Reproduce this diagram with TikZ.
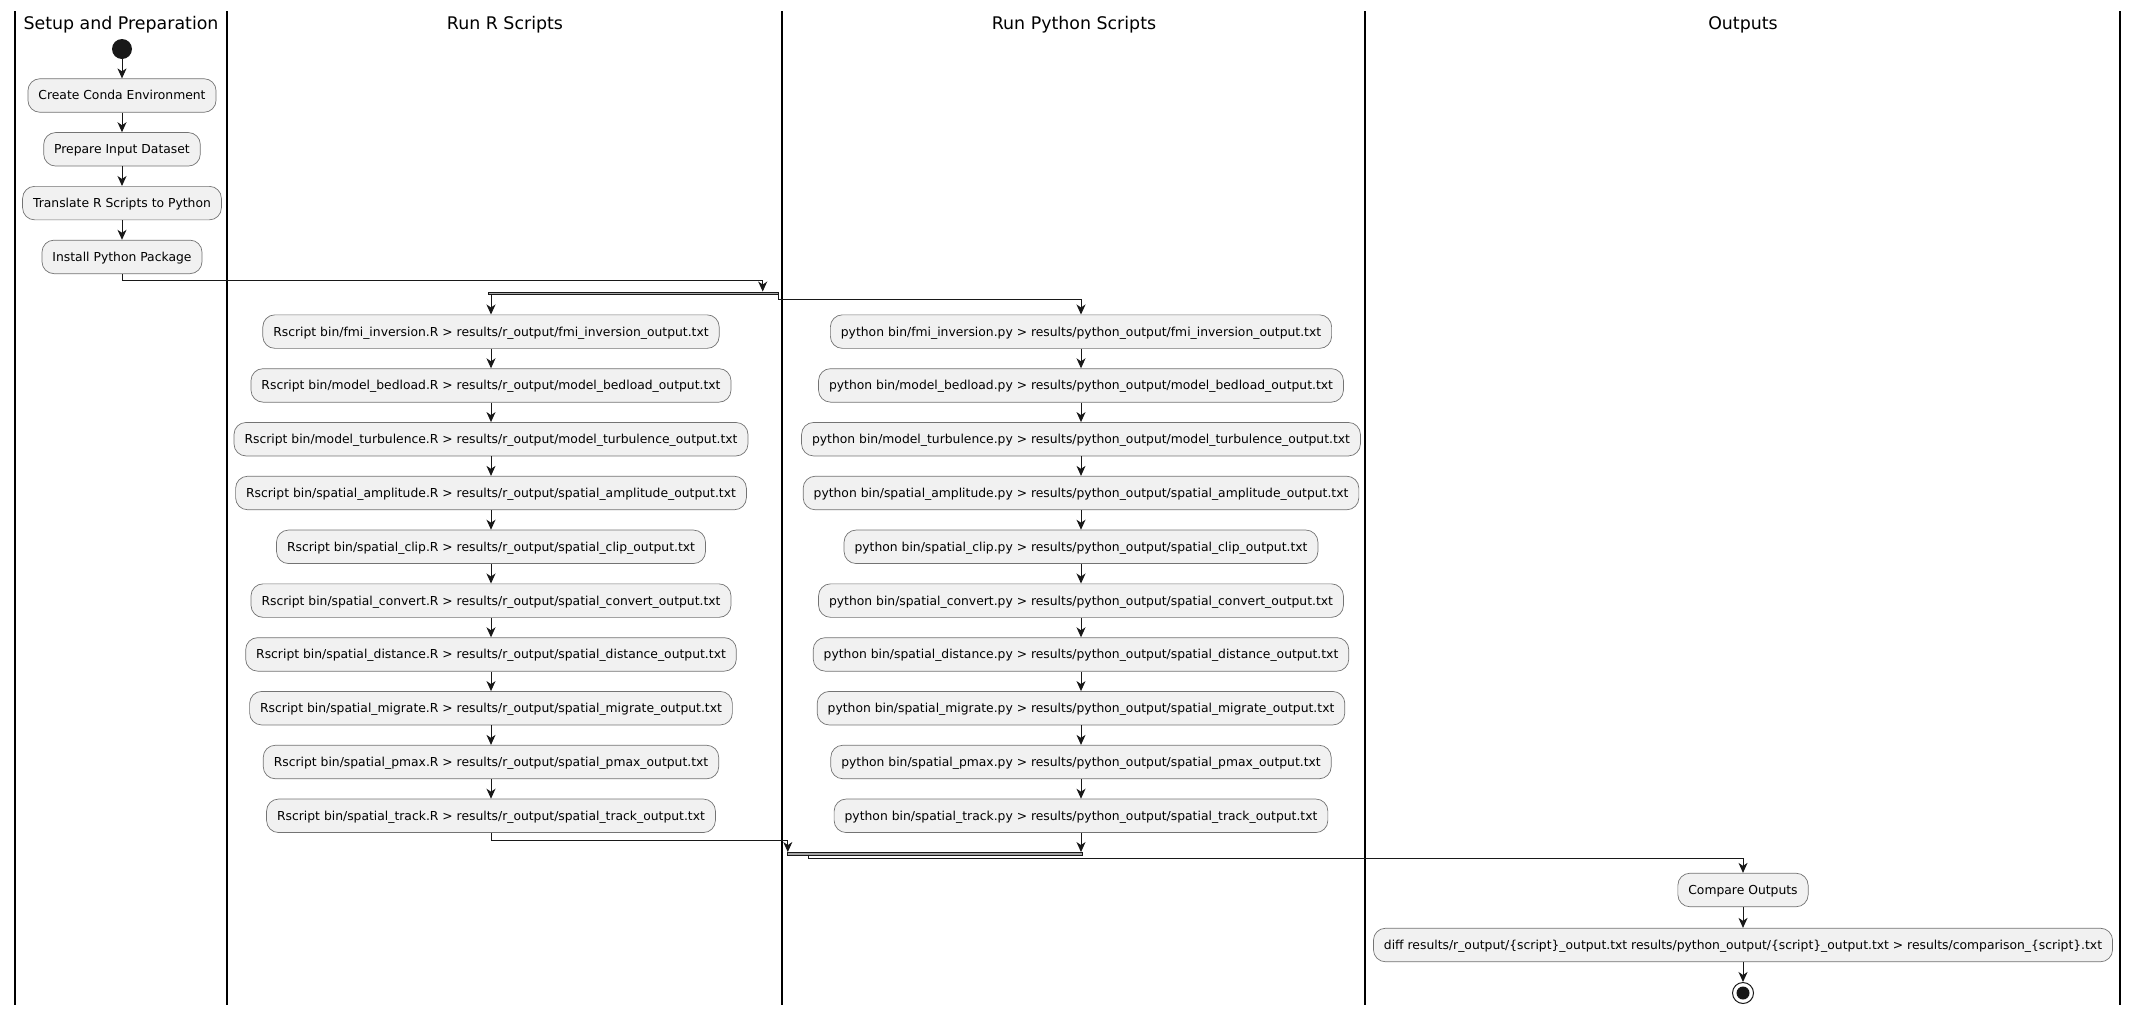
\documentclass[tikz,border=0pt]{standalone}
\usepackage{fontspec}
\setmainfont{DejaVu Sans}
\usetikzlibrary{arrows.meta}
\tikzset{>={Stealth[length=10bp,width=9bp,inset=3bp]}}
\definecolor{actfill}{HTML}{F1F1F1}
\definecolor{ink}{HTML}{181818}
\tikzset{
  act/.style={draw=black!55, line width=0.7bp, fill=actfill, rounded corners=12bp,
    minimum height=33.5bp, inner xsep=10.5bp, inner ysep=0pt,
    text height=10bp, text depth=1.1bp, font=\fontsize{12.35bp}{14.8bp}\selectfont},
  lanetitle/.style={anchor=base, font=\fontsize{17.4bp}{20bp}\selectfont},
  lane/.style={line width=1.5bp, black},
  flow/.style={->, ink, line width=1bp},
  bar/.style={fill=black!35, draw=ink, line width=0.4bp, minimum height=2.5bp, inner sep=0pt},
}

\begin{document}
\begin{tikzpicture}[x=1bp, y=-1bp]
  \useasboundingbox (0,0) rectangle (2140,1015);
  % swimlanes
  \foreach \x in {15,227,782,1365,2120}
    \draw[lane] (\x,11) -- (\x,1005);
  \node[lanetitle] (tsetup) at (121,29) {Setup and Preparation};
  \node[lanetitle] (tr) at (505,29) {Run R Scripts};
  \node[lanetitle] (tpy) at (1074,29) {Run Python Scripts};
  \node[lanetitle] (tout) at (1743,29) {Outputs};

  % setup
  \node[circle, fill=ink, minimum size=20bp, inner sep=0pt] (start) at (122,49) {};
  \node[act] (conda) at (122,95.5) {Create Conda Environment};
  \node[act] (data) at (122,149.3) {Prepare Input Dataset};
  \node[act] (trans) at (122,203.1) {Translate R Scripts to Python};
  \node[act] (pkg) at (122,256.9) {Install Python Package};
  \draw[flow] (start) -- (conda);
  \draw[flow] (conda) -- (data);
  \draw[flow] (data) -- (trans);
  \draw[flow] (trans) -- (pkg);

  \node[bar, minimum width=290bp] (fork) at (633.5,293) {};
  \draw[flow] (pkg.south) -- ++(0,6) -| ([xshift=-16bp]fork.north east);

  % R scripts
  \node[act] (r1) at (491,331.6) {Rscript bin/fmi\_inversion.R > results/r\_output/fmi\_inversion\_output.txt};
  \node[act] (r2) at (491,385.4) {Rscript bin/model\_bedload.R > results/r\_output/model\_bedload\_output.txt};
  \node[act] (r3) at (491,439.2) {Rscript bin/model\_turbulence.R > results/r\_output/model\_turbulence\_output.txt};
  \node[act] (r4) at (491,493.0) {Rscript bin/spatial\_amplitude.R > results/r\_output/spatial\_amplitude\_output.txt};
  \node[act] (r5) at (491,546.8) {Rscript bin/spatial\_clip.R > results/r\_output/spatial\_clip\_output.txt};
  \node[act] (r6) at (491,600.6) {Rscript bin/spatial\_convert.R > results/r\_output/spatial\_convert\_output.txt};
  \node[act] (r7) at (491,654.4) {Rscript bin/spatial\_distance.R > results/r\_output/spatial\_distance\_output.txt};
  \node[act] (r8) at (491,708.2) {Rscript bin/spatial\_migrate.R > results/r\_output/spatial\_migrate\_output.txt};
  \node[act] (r9) at (491,762.0) {Rscript bin/spatial\_pmax.R > results/r\_output/spatial\_pmax\_output.txt};
  \node[act] (r10) at (491,815.8) {Rscript bin/spatial\_track.R > results/r\_output/spatial\_track\_output.txt};

  % Python scripts
  \node[act] (p1) at (1081,331.6) {python bin/fmi\_inversion.py > results/python\_output/fmi\_inversion\_output.txt};
  \node[act] (p2) at (1081,385.4) {python bin/model\_bedload.py > results/python\_output/model\_bedload\_output.txt};
  \node[act] (p3) at (1081,439.2) {python bin/model\_turbulence.py > results/python\_output/model\_turbulence\_output.txt};
  \node[act] (p4) at (1081,493.0) {python bin/spatial\_amplitude.py > results/python\_output/spatial\_amplitude\_output.txt};
  \node[act] (p5) at (1081,546.8) {python bin/spatial\_clip.py > results/python\_output/spatial\_clip\_output.txt};
  \node[act] (p6) at (1081,600.6) {python bin/spatial\_convert.py > results/python\_output/spatial\_convert\_output.txt};
  \node[act] (p7) at (1081,654.4) {python bin/spatial\_distance.py > results/python\_output/spatial\_distance\_output.txt};
  \node[act] (p8) at (1081,708.2) {python bin/spatial\_migrate.py > results/python\_output/spatial\_migrate\_output.txt};
  \node[act] (p9) at (1081,762.0) {python bin/spatial\_pmax.py > results/python\_output/spatial\_pmax\_output.txt};
  \node[act] (p10) at (1081,815.8) {python bin/spatial\_track.py > results/python\_output/spatial\_track\_output.txt};

  \draw[flow] (fork.south -| r1.north) -- (r1.north);
  \draw[flow] (fork.east) -- ++(0,6) -| (p1.north);
  \draw[flow] (r1) -- (r2);
  \draw[flow] (r2) -- (r3);
  \draw[flow] (r3) -- (r4);
  \draw[flow] (r4) -- (r5);
  \draw[flow] (r5) -- (r6);
  \draw[flow] (r6) -- (r7);
  \draw[flow] (r7) -- (r8);
  \draw[flow] (r8) -- (r9);
  \draw[flow] (r9) -- (r10);
  \draw[flow] (p1) -- (p2);
  \draw[flow] (p2) -- (p3);
  \draw[flow] (p3) -- (p4);
  \draw[flow] (p4) -- (p5);
  \draw[flow] (p5) -- (p6);
  \draw[flow] (p6) -- (p7);
  \draw[flow] (p7) -- (p8);
  \draw[flow] (p8) -- (p9);
  \draw[flow] (p9) -- (p10);

  \node[bar, minimum width=295bp] (join) at (934.5,853.5) {};
  \draw[flow] (r10.south) -- ++(0,8) -| ([xshift=1bp]join.north west);
  \draw[flow] (p10.south) -- (p10.south |- join.north);

  % outputs
  \node[act] (cmp) at (1743,890) {Compare Outputs};
  \node[act] (diff) at (1743,945) {diff results/r\_output/\{script\}\_output.txt results/python\_output/\{script\}\_output.txt > results/comparison\_\{script\}.txt};
  \node[circle, draw=ink, line width=1bp, minimum size=21bp, inner sep=0pt,
    path picture={\fill[ink] (path picture bounding box.center) circle (6.5bp);}] (stop) at (1743,993) {};
  \draw[flow] ([xshift=22bp]join.south west) -- ++(0,4) -| (cmp.north);
  \draw[flow] (cmp) -- (diff);
  \draw[flow] (diff) -- (stop);
\end{tikzpicture}
\end{document}
